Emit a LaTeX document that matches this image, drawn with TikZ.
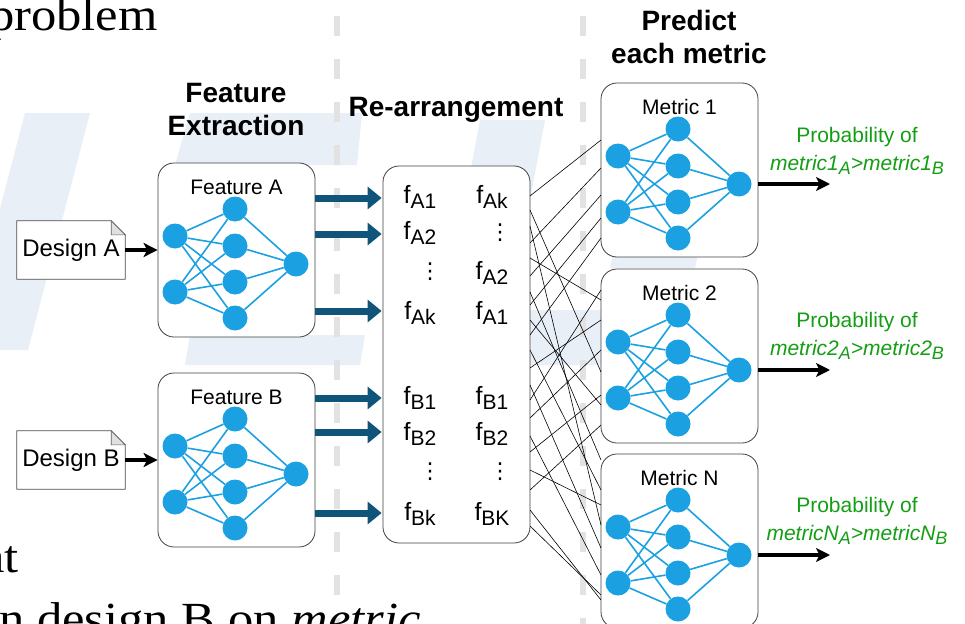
\documentclass[tikz,border=0pt]{standalone}
\usepackage{fontspec}
\setmainfont{Liberation Sans}
\newfontfamily\bgserif{Liberation Serif}
\newfontfamily\dvsans{DejaVu Sans}
\usetikzlibrary{arrows.meta}
\definecolor{nblue}{RGB}{27,161,226}
\definecolor{ablue}{RGB}{17,84,122}
\definecolor{pgreen}{RGB}{20,158,20}
\definecolor{wmark}{RGB}{233,239,247}
\definecolor{dashgray}{RGB}{226,226,226}
\newcommand{\fsub}[1]{f\raisebox{-5pt}{\fontsize{21}{21}\selectfont #1}}
\newcommand{\msub}[1]{\raisebox{-4pt}{\fontsize{18}{18}\selectfont #1}}
\newcommand{\bgtext}[1]{\scalebox{1.1}[1]{\fontsize{46}{46}\selectfont\bgserif #1}}
\newcommand{\vdts}{{\dvsans\fontsize{22}{22}\selectfont ⋮}}
\tikzset{
  nbox/.style={draw=black!75, fill=white, rounded corners=16pt, minimum width=157pt, minimum height=174pt, line width=0.8pt, inner sep=0pt},
  rearr/.style={draw=black!75, fill=white, rounded corners=16pt, minimum width=147pt, minimum height=377pt, line width=0.8pt, inner sep=0pt},
  neu/.style={circle, fill=nblue, minimum size=25pt, inner sep=0pt},
  syn/.style={draw=nblue, line width=1.6pt},
  nlbl/.style={font=\fontsize{21}{21}\selectfont, inner sep=0pt},
  ttl/.style={font=\fontsize{28}{33}\selectfont\bfseries, align=center, inner sep=0pt},
  feat/.style={font=\fontsize{25}{25}\selectfont, inner sep=0pt},
  docbox/.style={minimum width=108pt, minimum height=58pt, inner sep=0pt, font=\fontsize{24}{24}\selectfont},
  docline/.style={draw=black!70, line width=0.8pt, fill=white},
  blk/.style={draw=black, line width=3.2pt, -{Stealth[length=14pt,width=14pt,inset=3.5pt]}},
  barrow/.style={draw=ablue, line width=7pt, -{Triangle[length=14pt,width=22pt]}},
  xline/.style={draw=black, line width=0.6pt},
  prob/.style={text=pgreen, align=center, font=\fontsize{21}{28}\selectfont, inner sep=0pt},
  wm/.style={fill=wmark, draw=none},
  vdash/.style={draw=dashgray, line width=6pt, dash pattern=on 20pt off 23pt}
}
\newcommand{\nnet}[4]{%
  \begin{scope}[shift={(#2,#3)}]
    \node[nbox] (#1box) at (78.5,87) {};
    \node[nlbl] (#1lbl) at (78.5,24) {#4};
    \node[neu] (#1i1) at (17,73) {};
    \node[neu] (#1i2) at (17,129) {};
    \node[neu] (#1h1) at (77,46) {};
    \node[neu] (#1h2) at (77,83) {};
    \node[neu] (#1h3) at (77,119) {};
    \node[neu] (#1h4) at (77,155) {};
    \node[neu] (#1o) at (138,101) {};
    \foreach \hh in {1,2,3,4}{%
      \draw[syn] (#1i1) -- (#1h\hh);
      \draw[syn] (#1i2) -- (#1h\hh);
      \draw[syn] (#1h\hh) -- (#1o);}
  \end{scope}}
\begin{document}
\begin{tikzpicture}[x=1pt,y=-1pt]
\useasboundingbox (0,0) rectangle (965,623);
\clip (0,0) rectangle (965,623);
\fill[white] (0,0) rectangle (965,623);
% faint watermark
\fill[wm] (25,113) -- (90,113) -- (28,350) -- (-37,350) -- cycle;
\fill[wm] (190,113) -- (362,113) -- (357,165) -- (175,165) -- cycle;
\fill[wm] (480,120) -- (545,120) -- (530,200) -- (465,200) -- cycle;
\fill[wm] (190,335) -- (365,335) -- (360,365) -- (185,365) -- cycle;
\fill[wm] (525,310) -- (610,310) -- (605,365) -- (520,365) -- cycle;
\fill[wm] (615,245) -- (700,245) -- (695,268) -- (610,268) -- cycle;
% dashed separators
\draw[vdash] (337,-27) -- (337,650);
\draw[vdash] (583,-27) -- (583,650);
% background slide text
\node[anchor=base east, inner sep=0pt] (bg1) at (158,31) {\bgtext{problem}};
\node[anchor=base east, inner sep=0pt] (bg2) at (19,572) {\bgtext{at}};
\node[anchor=base east, inner sep=0pt] (bg3) at (421,634) {\bgtext{n design B on \textit{metric}}};
% titles
\node[ttl] (t1) at (236,110) {Feature\\Extraction};
\node[ttl] (t2) at (456,110) {Re-arrangement};
\node[ttl] (t3) at (689,37) {Predict\\each metric};
% designs
\node[docbox] (da) at (71,250) {};
\draw[docline] (da.south west) -- (da.north west) -- ([xshift=-14pt]da.north east) -- ([yshift=-14pt]da.north east) -- (da.south east) -- cycle;
\filldraw[draw=black!60, fill=black!12, line width=0.6pt] ([xshift=-14pt]da.north east) -- ([xshift=-14pt,yshift=-14pt]da.north east) -- ([yshift=-14pt]da.north east) -- cycle;
\node[docbox] (dat) at (da) {Design A};
\node[docbox] (db) at (71,460) {};
\draw[docline] (db.south west) -- (db.north west) -- ([xshift=-14pt]db.north east) -- ([yshift=-14pt]db.north east) -- (db.south east) -- cycle;
\filldraw[draw=black!60, fill=black!12, line width=0.6pt] ([xshift=-14pt]db.north east) -- ([xshift=-14pt,yshift=-14pt]db.north east) -- ([yshift=-14pt]db.north east) -- cycle;
\node[docbox] (dbt) at (db) {Design B};
% networks
\nnet{fa}{158}{163}{Feature A}
\nnet{fb}{158}{373}{Feature B}
\nnet{ma}{601}{83}{Metric 1}
\nnet{mb}{601}{269}{Metric 2}
\nnet{mn}{601}{454}{Metric N}
\draw[blk] (da.east) -- (fabox.west);
\draw[blk] (db.east) -- (fbbox.west);
% rearrangement box
\node[rearr] (rbox) at (456.5,354.5) {};
\node[feat] (c1r1) at (420,197) {\fsub{A1}};
\node[feat] (c1r2) at (420,233) {\fsub{A2}};
\node[feat] (c1r3) at (430,272) {\vdts};
\node[feat] (c1r4) at (420,313) {\fsub{Ak}};
\node[feat] (c2r1) at (492,197) {\fsub{Ak}};
\node[feat] (c2r2) at (500,233) {\vdts};
\node[feat] (c2r3) at (492,273) {\fsub{A2}};
\node[feat] (c2r4) at (492,313) {\fsub{A1}};
\node[feat] (c1r5) at (420,398) {\fsub{B1}};
\node[feat] (c1r6) at (420,434) {\fsub{B2}};
\node[feat] (c1r7) at (430,472) {\vdts};
\node[feat] (c1r8) at (420,514) {\fsub{Bk}};
\node[feat] (c2r5) at (492,398) {\fsub{B1}};
\node[feat] (c2r6) at (492,434) {\fsub{B2}};
\node[feat] (c2r7) at (500,472) {\vdts};
\node[feat] (c2r8) at (492,514) {\fsub{BK}};
% blue arrows
\foreach \yy [count=\k] in {198,234,311}{
  \coordinate (ay\k) at (0,\yy);
  \draw[barrow] (fabox.east |- ay\k) -- ([xshift=-1pt]rbox.west |- ay\k);}
\foreach \yy [count=\k] in {398,432,513}{
  \coordinate (by\k) at (0,\yy);
  \draw[barrow] (fbbox.east |- by\k) -- ([xshift=-1pt]rbox.west |- by\k);}
% crossing connections
\foreach \s/\e [count=\k] in {196/140,210/372,226/525,243/168,258/300,276/195,292/460,305/218,320/405,335/238,350/490,368/320,385/548,400/290,418/350,436/575,452/395,470/505,490/425,510/600,526/595}{
  \coordinate (xs\k) at (530,\s);
  \coordinate (xe\k) at (601,\e);
  \draw[xline] (xs\k) -- (xe\k);}
% outputs
\coordinate (oa) at (830,0);
\draw[blk] (mabox.east |- mao) -- (oa |- mao);
\draw[blk] (mbbox.east |- mbo) -- (oa |- mbo);
\draw[blk] (mnbox.east |- mno) -- (oa |- mno);
\node[prob] (pa) at (857,151) {Probability of\\\textit{metric1\msub{A}>metric1\msub{B}}};
\node[prob] (pb) at (857,336) {Probability of\\\textit{metric2\msub{A}>metric2\msub{B}}};
\node[prob] (pn) at (857,521) {Probability of\\\textit{metricN\msub{A}>metricN\msub{B}}};
\end{tikzpicture}
\end{document}
